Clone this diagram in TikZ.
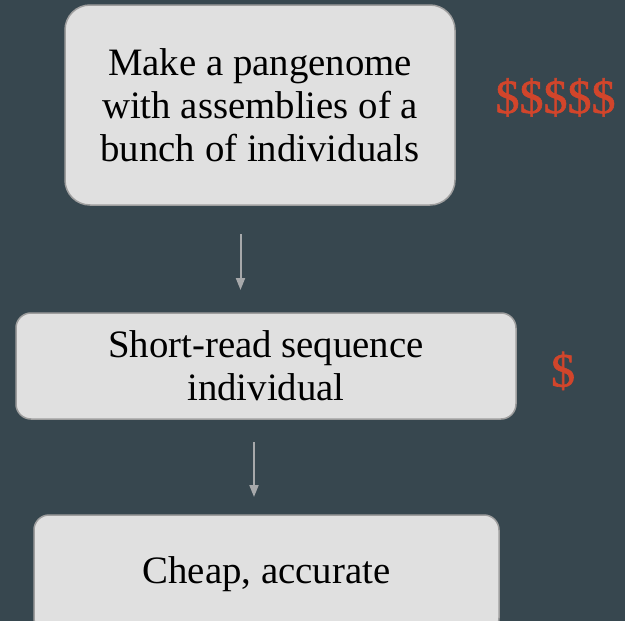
\documentclass[tikz,border=0pt]{standalone}
\usepackage{fontspec}
\setmainfont{Liberation Serif}
\newfontfamily\costfont{Liberation Serif}[FakeBold=1.2]
\usetikzlibrary{arrows.meta}
\definecolor{slate}{HTML}{37474F}
\definecolor{boxfill}{HTML}{E0E0E0}
\definecolor{boxline}{HTML}{9E9E9E}
\definecolor{cost}{HTML}{D2452B}
\definecolor{arrowgrey}{HTML}{A7A9AB}
\begin{document}
\begin{tikzpicture}[x=1pt,y=-1pt,
  stepbox/.style={draw=boxline, line width=1.5pt, fill=boxfill, align=center,
    inner sep=0pt, font=\fontsize{38.8}{43}\selectfont},
  flow/.style={draw=arrowgrey, line width=2pt, -{Triangle[width=9pt,length=12pt]}},
  price/.style={text=cost, inner sep=0pt, font=\costfont\fontsize{48}{48}\selectfont}]
  % background
  \fill[slate] (0,0) rectangle (625,621);
  \useasboundingbox (0,0) rectangle (625,621);

  % steps
  \node[stepbox, rounded corners=25pt, minimum width=390pt, minimum height=200pt]
    (pangenome) at (260,105) {Make a pangenome\\with assemblies of a\\bunch of individuals};
  \node[stepbox, rounded corners=15pt, minimum width=500pt, minimum height=106pt]
    (shortread) at (266,366) {Short-read sequence\\individual};
  \node[stepbox, rounded corners=15pt, minimum width=465pt, minimum height=118pt]
    (result) at (266.5,574) {Cheap, accurate};

  % costs
  \node[price] (costhigh) at (555.5,97.5) {\$\$\$\$\$};
  \node[price] (costlow) at (563,371) {\$};

  % connectors
  \coordinate (f1s) at (240.5,234);
  \coordinate (f1e) at (240.5,290);
  \coordinate (f2s) at (254,442);
  \coordinate (f2e) at (254,497);
  \draw[flow] (f1s) -- (f1e);
  \draw[flow] (f2s) -- (f2e);
\end{tikzpicture}
\end{document}
